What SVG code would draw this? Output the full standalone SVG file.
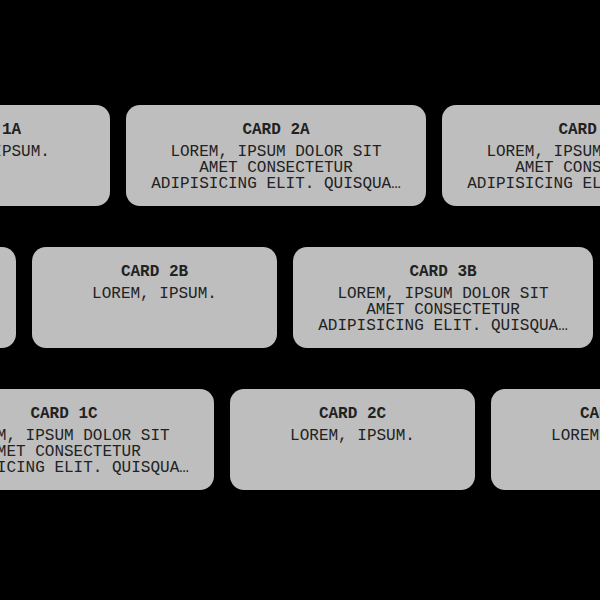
<svg xmlns="http://www.w3.org/2000/svg" width="600" height="600" viewBox="0 0 600 600">
<style>
.card{fill:#bebebe}
.t{font-family:"Liberation Mono","Courier New",monospace;font-size:16px;fill:#222;text-anchor:middle}
.h{font-weight:bold}
</style>
<rect width="600" height="600" fill="#000"/>
<g id="card-1a"><rect class="card" x="-135" y="105" width="245" height="101" rx="14"/><text class="t h" x="-12.5" y="133.5">CARD 1A</text><text class="t" x="-12.5" y="155.5">LOREM, IPSUM.</text></g>
<g id="card-2a"><rect class="card" x="126" y="105" width="300" height="101" rx="14"/><text class="t h" x="276" y="133.5">CARD 2A</text><text class="t" x="276" y="155.5">LOREM, IPSUM DOLOR SIT</text><text class="t" x="276" y="171.5">AMET CONSECTETUR</text><text class="t" x="276" y="187.5">ADIPISICING ELIT. QUISQUA…</text></g>
<g id="card-3a"><rect class="card" x="442" y="105" width="300" height="101" rx="14"/><text class="t h" x="592" y="133.5">CARD 3A</text><text class="t" x="592" y="155.5">LOREM, IPSUM DOLOR SIT</text><text class="t" x="592" y="171.5">AMET CONSECTETUR</text><text class="t" x="592" y="187.5">ADIPISICING ELIT. QUISQUA…</text></g>
<g id="card-1b"><rect class="card" x="-284" y="247" width="300" height="101" rx="14"/></g>
<g id="card-2b"><rect class="card" x="32" y="247" width="245" height="101" rx="14"/><text class="t h" x="154.5" y="275.5">CARD 2B</text><text class="t" x="154.5" y="297.5">LOREM, IPSUM.</text></g>
<g id="card-3b"><rect class="card" x="293" y="247" width="300" height="101" rx="14"/><text class="t h" x="443" y="275.5">CARD 3B</text><text class="t" x="443" y="297.5">LOREM, IPSUM DOLOR SIT</text><text class="t" x="443" y="313.5">AMET CONSECTETUR</text><text class="t" x="443" y="329.5">ADIPISICING ELIT. QUISQUA…</text></g>
<g id="card-1c"><rect class="card" x="-86" y="389" width="300" height="101" rx="14"/><text class="t h" x="64" y="417.5">CARD 1C</text><text class="t" x="64" y="439.5">LOREM, IPSUM DOLOR SIT</text><text class="t" x="64" y="455.5">AMET CONSECTETUR</text><text class="t" x="64" y="471.5">ADIPISICING ELIT. QUISQUA…</text></g>
<g id="card-2c"><rect class="card" x="230" y="389" width="245" height="101" rx="14"/><text class="t h" x="352.5" y="417.5">CARD 2C</text><text class="t" x="352.5" y="439.5">LOREM, IPSUM.</text></g>
<g id="card-3c"><rect class="card" x="491" y="389" width="245" height="101" rx="14"/><text class="t h" x="613.5" y="417.5">CARD 3C</text><text class="t" x="613.5" y="439.5">LOREM, IPSUM.</text></g>
<g id="connectors"/>
</svg>
